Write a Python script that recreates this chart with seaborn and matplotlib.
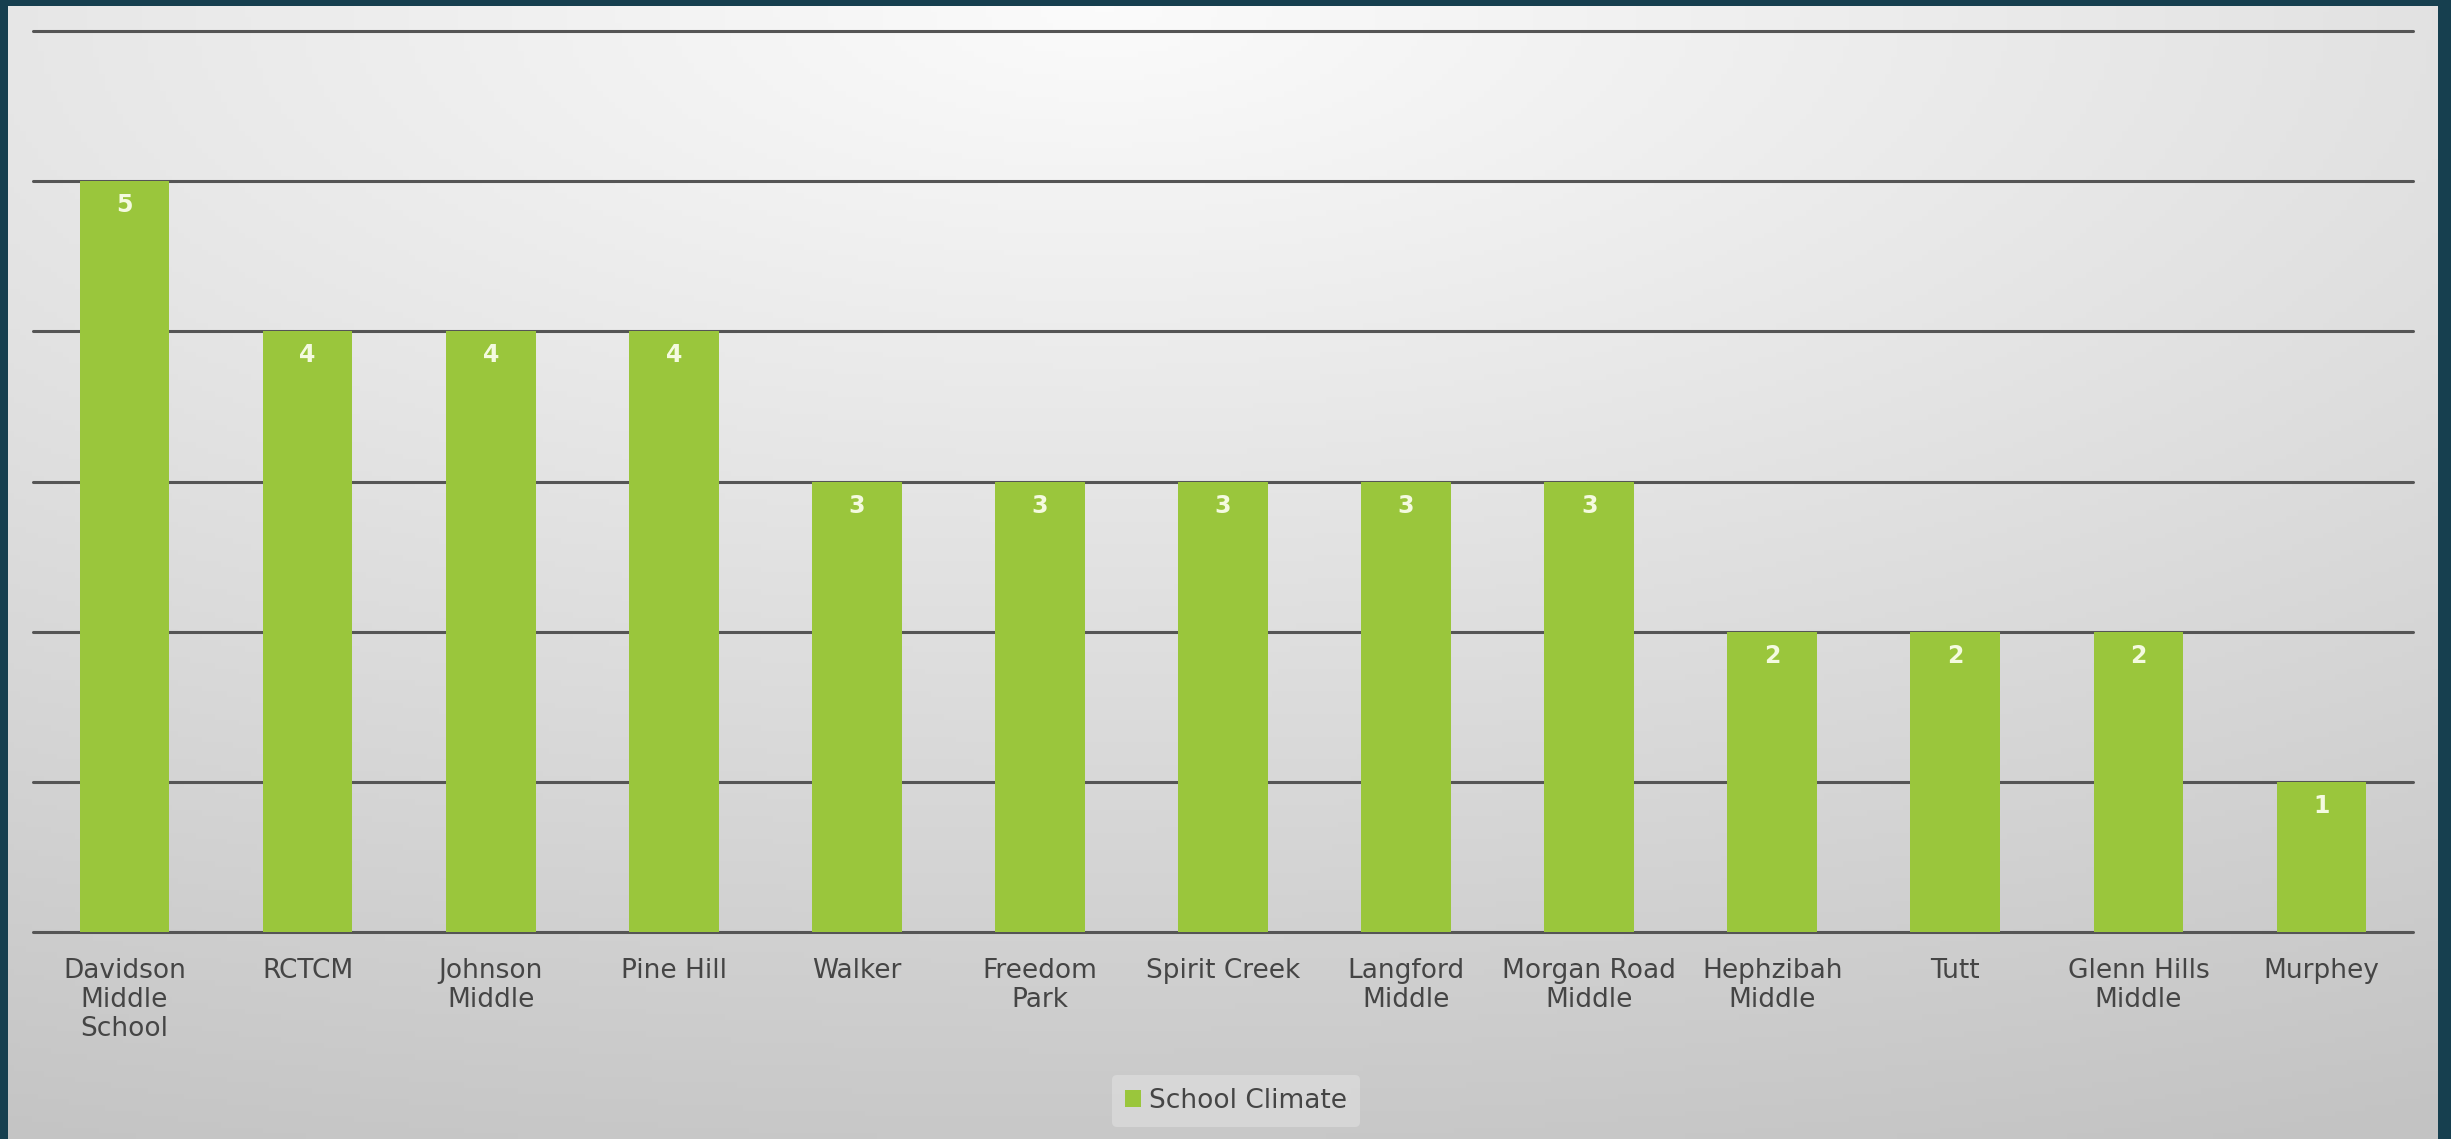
import numpy as np
import pandas as pd
import matplotlib
matplotlib.use("Agg")
import matplotlib.pyplot as plt
from matplotlib import font_manager
from matplotlib.patches import Patch
import seaborn as sns

schools = ["Davidson\nMiddle\nSchool", "RCTCM", "Johnson\nMiddle", "Pine Hill", "Walker",
           "Freedom\nPark", "Spirit Creek", "Langford\nMiddle", "Morgan Road\nMiddle",
           "Hephzibah\nMiddle", "Tutt", "Glenn Hills\nMiddle", "Murphey"]
scores = [5, 4, 4, 4, 3, 3, 3, 3, 3, 2, 2, 2, 1]
series_name = "School Climate"
y_ticks = [0, 1, 2, 3, 4, 5, 6]

GREEN = "#9AC63C"
BORDER = "#163f4f"

sns.set_theme(style="white")
names = {f.name for f in font_manager.fontManager.ttflist}
fam = "Liberation Sans Narrow" if "Liberation Sans Narrow" in names else "DejaVu Sans"
plt.rcParams["font.family"] = [fam, "DejaVu Sans"]

W, H = 2451, 1139
fig = plt.figure(figsize=(W / 100, H / 100), dpi=100, facecolor=BORDER)

# panel background with soft gradient
bg = fig.add_axes([8 / W, 0, (2438 - 8) / W, 1 - 6 / H])
yy, xx = np.mgrid[0:1:200j, 0:1:400j]
d = np.sqrt(((xx - 0.45) * 0.9) ** 2 + (yy * 1.0) ** 2)
shade = 0.985 - 0.20 * np.clip(d, 0, 1.1)
img = np.dstack([shade, shade, shade])
bg.imshow(img, aspect="auto", extent=[0, 1, 1, 0])
bg.set_axis_off()

ax = fig.add_axes([33 / W, 1 - 932 / H, (2413 - 33) / W, (932 - 31) / H])
ax.set_facecolor("none")
ax.patch.set_alpha(0)

df = pd.DataFrame({"school": schools, "score": scores, "series": series_name})
sns.barplot(data=df, x="school", y="score", color=GREEN, width=0.49, ax=ax,
            saturation=1, legend=False, zorder=3, linewidth=0, edgecolor="none")

ax.set_ylim(0, 6)
ax.set_xlim(-0.5, len(schools) - 0.5)
ax.set_yticks(y_ticks)
ax.yaxis.grid(True, color="#555555", linewidth=2.2, zorder=1)
for gl in ax.yaxis.get_gridlines():
    gl.set_clip_on(False)
ax.set_axisbelow(True)
ax.tick_params(axis="y", left=False, labelleft=False)
ax.tick_params(axis="x", bottom=False, pad=13, labelsize=19, labelcolor="#454545")
for t in ax.get_xticklabels():
    t.set_linespacing(1.15)
    t.set_multialignment("center")
ax.set_xlabel("")
ax.set_ylabel("")
for s in ax.spines.values():
    s.set_visible(False)

for c in ax.containers:
    ax.bar_label(c, fmt="%d", padding=-26, color="#f4fae0", fontsize=17,
                 fontweight="bold", family="DejaVu Sans")

leg = fig.legend(handles=[Patch(facecolor=GREEN, edgecolor="none", label=series_name)],
                 loc="center", bbox_to_anchor=(1236 / W, 1 - 1101 / H), frameon=True,
                 fontsize=19, handlelength=0.6, handleheight=0.6, handletextpad=0.3,
                 borderpad=0.5, labelcolor="#454545")
leg.get_frame().set_facecolor("#e4e4e4")
leg.get_frame().set_edgecolor("none")
leg.get_frame().set_alpha(0.5)

fig.savefig("out.png", dpi=100, facecolor=fig.get_facecolor())
